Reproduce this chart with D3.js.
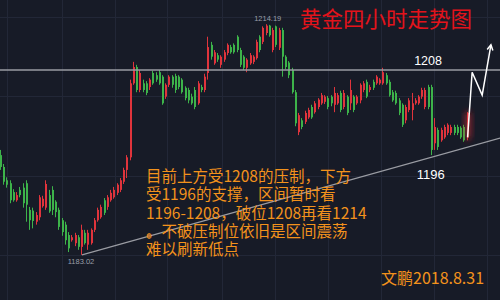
<!DOCTYPE html>
<html><head><meta charset="utf-8">
<script src="https://cdn.jsdelivr.net/npm/d3@7"></script>
<style>html,body{margin:0;padding:0;background:#171b27;} svg{display:block;}</style>
</head><body>
<svg id="chart" width="500" height="300"></svg>
<script>
// 4-hour gold candles (price in USD/oz)
const opens = [1196.5,1194.9,1193.1,1192.7,1191.5,1190.4,1191.8,1192.1,1192.7,1189.1,1189.0,1187.5,1188.1,1189.6,1189.4,1191.1,1191.8,1190.2,1189.1,1187.7,1187.1,1185.7,1185.0,1184.6,1185.4,1184.1,1186.0,1184.4,1184.6,1186.4,1187.7,1188.1,1190.4,1189.5,1190.4,1190.8,1191.4,1191.8,1192.9,1194.5,1196.2,1206.2,1208.4,1205.3,1206.2,1206.2,1205.7,1207.6,1207.3,1207.7,1207.1,1204.4,1206.0,1207.1,1207.2,1207.1,1206.7,1205.6,1205.3,1204.4,1205.3,1203.5,1205.7,1205.3,1207.6,1211.4,1208.9,1210.0,1208.7,1209.4,1210.3,1211.1,1211.4,1212.5,1210.7,1209.8,1208.3,1208.9,1209.1,1209.6,1212.5,1211.8,1213.0,1214.0,1210.7,1213.9,1211.0,1213.4,1209.8,1209.0,1208.0,1205.0,1199.6,1201.2,1201.0,1201.6,1203.0,1202.3,1203.0,1203.5,1203.7,1204.2,1204.4,1203.3,1203.5,1204.9,1203.0,1204.4,1203.5,1204.4,1203.5,1203.9,1205.3,1206.4,1205.3,1206.4,1206.2,1206.2,1206.2,1207.3,1206.4,1205.0,1204.9,1203.9,1203.3,1201.2,1202.6,1202.6,1203.5,1203.5,1204.4,1203.0,1205.7,1205.7,1198.1,1199.9,1198.5,1198.9,1199.5,1199.5,1200.3,1200.3,1200.2,1200.3,1198.9];
const highs = [1197.2,1195.3,1193.5,1193.1,1191.9,1191.5,1192.2,1192.7,1193.1,1189.5,1189.4,1188.8,1191.1,1191.0,1193.1,1191.8,1192.3,1190.4,1189.4,1188.0,1187.5,1186.1,1185.7,1186.0,1185.7,1187.1,1186.4,1186.4,1186.6,1188.0,1189.4,1189.8,1190.7,1191.1,1191.8,1192.2,1192.7,1193.4,1194.8,1196.5,1206.7,1209.1,1208.7,1208.0,1206.7,1206.5,1206.9,1207.9,1207.7,1208.0,1207.3,1206.2,1207.3,1207.3,1207.5,1207.3,1206.9,1205.8,1205.6,1204.8,1205.7,1206.5,1206.0,1207.5,1212.5,1211.8,1210.7,1210.3,1210.0,1210.7,1211.6,1211.4,1211.6,1212.7,1211.0,1210.0,1209.6,1210.3,1210.0,1212.1,1212.7,1213.9,1214.19,1214.1,1213.7,1214.0,1213.7,1213.7,1210.0,1209.2,1208.3,1205.3,1202.2,1201.5,1202.5,1202.9,1203.3,1203.8,1204.2,1204.9,1204.6,1204.5,1204.6,1205.7,1204.9,1205.2,1205.3,1204.6,1206.7,1204.6,1204.6,1206.2,1206.5,1206.7,1206.0,1206.7,1207.3,1206.9,1208.3,1207.6,1206.7,1205.3,1205.2,1204.2,1203.5,1203.3,1204.2,1204.9,1204.2,1204.6,1205.6,1205.6,1206.0,1206.0,1201.5,1200.2,1200.2,1200.6,1200.8,1200.6,1200.6,1200.6,1200.4,1200.6,1202.3];
const lows = [1194.5,1192.5,1192.1,1190.0,1190.2,1190.2,1190.8,1189.4,1187.5,1186.4,1186.6,1187.1,1187.7,1189.4,1189.1,1188.7,1188.4,1188.1,1186.4,1185.6,1184.4,1183.4,1184.8,1184.2,1183.7,1183.02,1184.4,1183.7,1184.4,1186.1,1187.5,1187.9,1188.4,1189.1,1190.2,1190.6,1191.1,1191.5,1192.6,1193.4,1195.8,1206.0,1205.0,1205.0,1205.0,1204.6,1205.3,1206.0,1206.4,1206.0,1203.3,1204.1,1205.7,1205.6,1204.9,1205.4,1204.8,1203.9,1203.5,1203.3,1202.7,1203.3,1205.0,1205.0,1206.7,1209.4,1208.7,1209.1,1208.3,1209.1,1210.0,1210.2,1210.2,1210.4,1208.4,1208.0,1207.7,1208.7,1208.8,1209.4,1210.4,1211.5,1212.7,1212.5,1210.4,1211.1,1210.7,1207.1,1208.1,1206.9,1204.8,1200.4,1199.2,1200.0,1200.7,1201.4,1201.4,1202.1,1202.7,1203.3,1203.4,1202.7,1203.1,1202.3,1203.3,1202.3,1202.7,1201.9,1202.6,1202.3,1203.3,1203.5,1205.0,1204.2,1205.0,1205.3,1206.0,1206.0,1206.0,1206.0,1204.4,1203.7,1203.3,1201.9,1200.3,1200.8,1202.3,1201.2,1203.3,1203.3,1204.1,1202.7,1202.7,1196.5,1197.2,1197.2,1198.3,1198.7,1199.2,1199.2,1199.2,1199.2,1198.7,1198.3,1198.5];
const closes = [1194.9,1192.9,1192.5,1190.4,1190.4,1191.1,1191.1,1190.0,1189.8,1187.7,1187.6,1188.4,1190.8,1190.6,1192.6,1188.9,1189.1,1188.8,1186.8,1186.1,1185.0,1183.9,1185.4,1185.7,1184.1,1186.4,1184.6,1186.0,1186.4,1187.7,1189.1,1189.5,1188.7,1190.8,1191.4,1191.8,1192.5,1193.1,1194.5,1196.2,1206.2,1208.4,1205.3,1207.6,1205.3,1204.9,1206.7,1206.2,1206.7,1206.2,1203.5,1206.0,1207.1,1206.0,1205.3,1205.7,1205.0,1204.2,1203.9,1203.5,1203.0,1206.2,1205.3,1207.1,1211.1,1209.8,1210.4,1209.4,1209.8,1210.4,1211.4,1210.4,1210.4,1210.7,1208.7,1208.3,1209.4,1210.0,1209.8,1211.8,1210.7,1213.7,1214.0,1212.7,1213.4,1211.4,1213.4,1209.8,1208.4,1207.3,1205.0,1200.8,1201.9,1200.3,1202.2,1202.6,1201.6,1203.5,1204.0,1204.6,1204.4,1203.0,1203.5,1204.9,1204.6,1202.6,1204.9,1202.2,1205.3,1202.6,1204.4,1206.0,1206.2,1204.4,1205.7,1205.6,1207.1,1206.7,1207.7,1206.2,1204.6,1203.9,1203.5,1202.2,1200.6,1203.0,1203.9,1203.5,1203.9,1204.4,1205.3,1205.3,1203.0,1197.2,1200.3,1197.6,1199.9,1200.3,1200.6,1200.3,1199.5,1199.5,1198.9,1198.5,1202.2];

const resistance = 1208;
const supportLevel = 1196;
const trendAnchors = [[25, 1183.02], [154, 1198.8]];
const calloutAnchor = [45.7];
const projection = [[144, 1198.9], [145.4, 1207.7], [148.5, 1204.6], [151.2, 1211.4]];
const gridPrices = [1215.2, 1204.5, 1193.7, 1183.0];
const gridSlots = [1.85, 18.8, 35.2, 51.2, 68.2, 84.6, 100.9, 117.3, 133.6, 150];

const title = "黄金四小时走势图";
const notes = [
  "目前上方受1208的压制，下方",
  "受1196的支撑，区间暂时看",
  "1196-1208，破位1208再看1214",
  "。不破压制位依旧是区间震荡",
  "难以刷新低点"
];
const signature = "文鹏2018.8.31";

const W = 500, H = 300;
const UP = "#e0343c", DOWN = "#3db34a";
const svg = d3.select("#chart");

const x = d3.scaleLinear().domain([0, closes.length - 1]).range([1, 467.6]);
const y = d3.scaleLinear().domain([1176.92, 1217.46]).range([H, 0]);

svg.append("rect").attr("width", W).attr("height", H).attr("fill", "#171b27");

// faint grid
const grid = svg.append("g").attr("stroke", "#222737").attr("stroke-width", 1);
grid.selectAll("line.h").data(gridPrices).join("line")
  .attr("x1", 0).attr("x2", W)
  .attr("y1", d => Math.round(y(d)) + 0.5).attr("y2", d => Math.round(y(d)) + 0.5);
grid.selectAll("line.v").data(gridSlots).join("line")
  .attr("y1", 0).attr("y2", H)
  .attr("x1", d => Math.round(x(d)) + 0.5).attr("x2", d => Math.round(x(d)) + 0.5);

// glow filter for the latest candle
const defs = svg.append("defs");
const f = defs.append("filter").attr("id", "glow").attr("x", "-300%").attr("y", "-100%").attr("width", "700%").attr("height", "300%");
f.append("feGaussianBlur").attr("stdDeviation", 3.5).attr("result", "b");
const mg = f.append("feMerge");
mg.append("feMergeNode").attr("in", "b");
mg.append("feMergeNode").attr("in", "b");
mg.append("feMergeNode").attr("in", "SourceGraphic");

// candles
const idx = d3.range(closes.length);
const candles = svg.append("g");
const last = closes.length - 1;
candles.selectAll("g").data(idx).join("g")
  .each(function(i) {
    const g = d3.select(this);
    const col = closes[i] >= opens[i] ? UP : DOWN;
    if (i === last) g.attr("filter", "url(#glow)");
    const cx = Math.round(x(i));
    g.append("line")
      .attr("x1", cx - 0.5).attr("x2", cx - 0.5)
      .attr("y1", y(highs[i])).attr("y2", y(lows[i]))
      .attr("stroke", col).attr("stroke-width", 1);
    const top = y(Math.max(opens[i], closes[i]));
    const bot = y(Math.min(opens[i], closes[i]));
    g.append("rect")
      .attr("x", cx - 1).attr("width", 2)
      .attr("y", top).attr("height", Math.max(1, bot - top))
      .attr("fill", col);
  });

// resistance line
svg.append("line")
  .attr("x1", 0).attr("x2", W)
  .attr("y1", y(resistance)).attr("y2", y(resistance))
  .attr("stroke", "#9a9ca3").attr("stroke-width", 1.6);

// rising support line
const tl = d3.line().x(d => x(d[0])).y(d => y(d[1]));
svg.append("path").attr("d", tl(trendAnchors))
  .attr("fill", "none").attr("stroke", "#9a9ca3").attr("stroke-width", 1.2);
const slope = (trendAnchors[1][1] - trendAnchors[0][1]) / (trendAnchors[1][0] - trendAnchors[0][0]);
svg.selectAll("circle.anchor").data(calloutAnchor).join("circle")
  .attr("cx", d => x(d))
  .attr("cy", d => y(trendAnchors[0][1] + slope * (d - trendAnchors[0][0])))
  .attr("r", 2).attr("fill", "#b8763a");

// extreme labels
const fmt = d3.format(".2f");
const hi = d3.maxIndex(highs), lo = d3.minIndex(lows);
svg.append("text").attr("x", x(hi) + 1).attr("y", y(highs[hi]) - 3)
  .attr("text-anchor", "middle").attr("font-family", "Liberation Sans, Arial, sans-serif")
  .attr("font-size", 7.5).attr("fill", "#9a9ea8").text(fmt(highs[hi]));
svg.append("text").attr("x", x(lo) - 1).attr("y", y(lows[lo]) + 9.5)
  .attr("text-anchor", "middle").attr("font-family", "Liberation Sans, Arial, sans-serif")
  .attr("font-size", 7.5).attr("fill", "#9a9ea8").text(fmt(lows[lo]));

// level labels
svg.append("text").attr("x", x(131.8)).attr("y", y(resistance) - 5)
  .attr("text-anchor", "middle").attr("font-family", "Liberation Sans, Arial, sans-serif")
  .attr("font-size", 12.5).attr("fill", "#ffffff").text(String(resistance));
svg.append("text").attr("x", x(132.6)).attr("y", y(supportLevel) + 20)
  .attr("text-anchor", "middle").attr("font-family", "Liberation Sans, Arial, sans-serif")
  .attr("font-size", 13).attr("fill", "#ffffff").text(String(supportLevel));

// projected path with arrow head
const pl = d3.line().x(d => x(d[0])).y(d => y(d[1]));
svg.append("path").attr("d", pl(projection))
  .attr("fill", "none").attr("stroke", "#ffffff").attr("stroke-width", 1.5)
  .attr("stroke-linejoin", "miter");
const pA = projection[projection.length - 2], pB = projection[projection.length - 1];
const ax = x(pB[0]), ay = y(pB[1]);
const ang = Math.atan2(ay - y(pA[1]), ax - x(pA[0]));
const head = [ang + Math.PI - 0.5, ang + Math.PI + 0.5].map(a => [ax + 6 * Math.cos(a), ay + 6 * Math.sin(a)]);
svg.append("path")
  .attr("d", `M${head[0][0]},${head[0][1]}L${ax},${ay}L${head[1][0]},${head[1][1]}`)
  .attr("fill", "none").attr("stroke", "#ffffff").attr("stroke-width", 1.5);

// title
svg.append("text").attr("x", 300).attr("y", 27)
  .attr("font-family", "Noto Sans CJK SC, sans-serif").attr("font-size", 21.5)
  .attr("fill", "#e3131b").text(title);

// commentary
const note = svg.append("g").attr("font-family", "Noto Sans CJK SC, sans-serif")
  .attr("font-size", 15.5).attr("fill", "#f3921c");
note.selectAll("text").data(notes).join("text")
  .attr("x", 146).attr("y", (d, i) => 182 + i * 18.25).text(d => d);

svg.append("text").attr("x", 381).attr("y", 284)
  .attr("font-family", "Noto Sans CJK SC, sans-serif").attr("font-size", 16)
  .attr("fill", "#f3921c").text(signature);
</script>
</body></html>
